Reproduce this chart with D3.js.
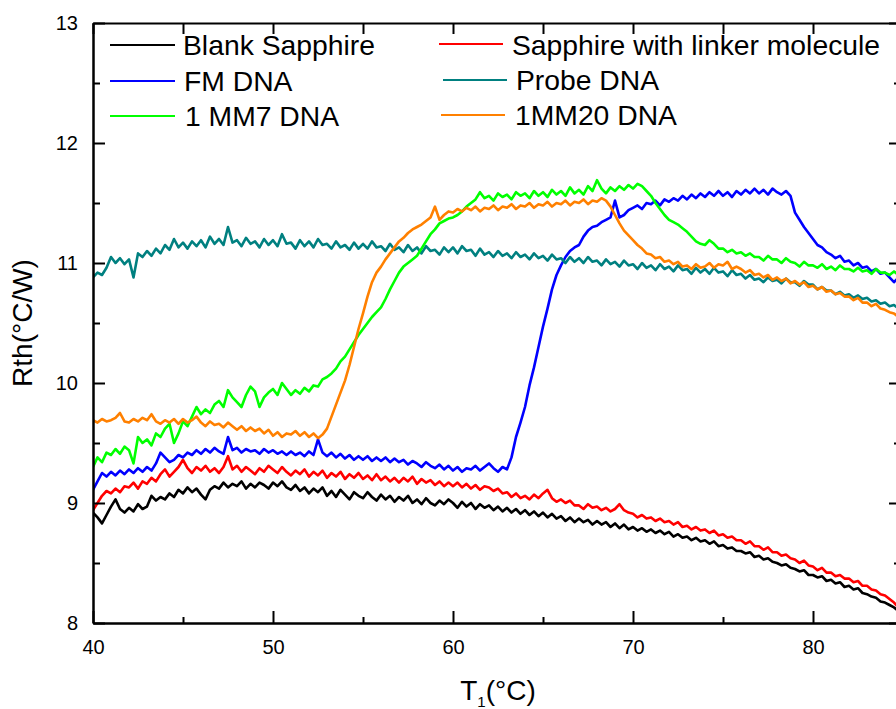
<!DOCTYPE html>
<html>
<head>
<meta charset="utf-8">
<script src="https://cdn.jsdelivr.net/npm/d3@7"></script>
<style>
  body { margin: 0; background: #fff; }
  svg { display: block; font-family: Arial, "Liberation Sans", sans-serif; }
</style>
</head>
<body>
<svg id="chart" width="896" height="709"></svg>
<script>
// Thermal resistance Rth (°C/W) versus temperature T1 (°C), sampled every 0.25 °C from 40 °C.
const tStart = 40;
const tStep = 0.25;

const blankSapphire = [
  8.92,8.88,8.83,8.90, 8.97,9.03,8.95,8.92, 8.96,8.93,8.99,8.95, 8.97,9.06,9.02,9.05,
  9.03,9.08,9.05,9.11, 9.08,9.13,9.09,9.12, 9.07,9.03,9.11,9.14, 9.12,9.17,9.13,9.16,
  9.14,9.18,9.12,9.16, 9.13,9.17,9.15,9.12, 9.17,9.14,9.18,9.13, 9.11,9.15,9.10,9.13,
  9.08,9.12,9.09,9.13, 9.06,9.10,9.05,9.11, 9.07,9.03,9.09,9.06, 9.04,9.09,9.05,9.02,
  9.07,9.03,9.06,9.01, 9.05,9.02,9.06,9.00, 9.03,8.99,9.04,9.00, 8.98,9.02,8.99,9.03,
  9.00,8.96,9.01,8.97, 9.00,8.95,8.99,8.96, 8.98,8.94,8.97,8.93, 8.96,8.92,8.95,8.91,
  8.94,8.90,8.93,8.89, 8.92,8.88,8.91,8.87, 8.89,8.85,8.88,8.84, 8.87,8.84,8.86,8.82,
  8.85,8.82,8.84,8.80, 8.83,8.79,8.82,8.78, 8.80,8.77,8.79,8.76, 8.78,8.75,8.77,8.74,
  8.76,8.72,8.74,8.71, 8.72,8.69,8.71,8.68, 8.69,8.66,8.68,8.64, 8.65,8.62,8.63,8.60,
  8.60,8.58,8.59,8.55, 8.56,8.53,8.54,8.51, 8.50,8.48,8.49,8.46, 8.45,8.43,8.44,8.40,
  8.40,8.38,8.39,8.35, 8.36,8.33,8.34,8.30, 8.31,8.28,8.29,8.25, 8.24,8.22,8.21,8.18,
  8.17,8.15,8.13,8.10
];

const linkerSapphire = [
  8.94,9.00,9.06,9.10, 9.08,9.12,9.09,9.14, 9.13,9.17,9.12,9.18, 9.16,9.21,9.18,9.24,
  9.28,9.22,9.26,9.30, 9.36,9.29,9.25,9.30, 9.27,9.31,9.26,9.29, 9.25,9.30,9.39,9.28,
  9.31,9.26,9.30,9.27, 9.24,9.29,9.26,9.31, 9.28,9.25,9.30,9.26, 9.23,9.27,9.24,9.28,
  9.22,9.26,9.23,9.27, 9.21,9.25,9.22,9.26, 9.20,9.24,9.21,9.25, 9.20,9.23,9.19,9.24,
  9.19,9.22,9.18,9.21, 9.17,9.21,9.18,9.22, 9.16,9.20,9.17,9.19, 9.15,9.18,9.14,9.17,
  9.14,9.17,9.13,9.16, 9.12,9.15,9.11,9.14, 9.13,9.10,9.12,9.08, 9.09,9.05,9.08,9.04,
  9.06,9.03,9.07,9.04, 9.08,9.11,9.04,9.01, 9.03,9.00,9.02,8.98, 8.98,8.95,8.99,8.96,
  8.97,8.94,8.96,8.93, 8.95,8.99,8.94,8.92, 8.91,8.88,8.90,8.87, 8.88,8.85,8.87,8.84,
  8.85,8.82,8.84,8.80, 8.81,8.78,8.80,8.77, 8.78,8.75,8.77,8.73, 8.74,8.71,8.72,8.69,
  8.69,8.66,8.68,8.64, 8.64,8.61,8.63,8.59, 8.59,8.56,8.57,8.54, 8.53,8.50,8.52,8.48,
  8.47,8.44,8.46,8.42, 8.42,8.39,8.40,8.37, 8.37,8.34,8.35,8.31, 8.31,8.28,8.27,8.24,
  8.23,8.20,8.17,8.13
];

const fmDna = [
  9.11,9.18,9.25,9.22, 9.26,9.23,9.27,9.24, 9.28,9.25,9.29,9.26, 9.30,9.27,9.33,9.42,
  9.38,9.34,9.36,9.40, 9.38,9.42,9.40,9.44, 9.41,9.45,9.42,9.46, 9.43,9.41,9.55,9.44,
  9.46,9.42,9.45,9.43, 9.44,9.41,9.45,9.42, 9.44,9.41,9.43,9.40, 9.43,9.40,9.42,9.39,
  9.43,9.40,9.53,9.42, 9.39,9.42,9.38,9.41, 9.37,9.40,9.36,9.39, 9.36,9.39,9.35,9.38,
  9.35,9.38,9.34,9.37, 9.34,9.36,9.32,9.35, 9.33,9.30,9.34,9.31, 9.29,9.32,9.28,9.31,
  9.27,9.30,9.26,9.29, 9.28,9.31,9.27,9.30, 9.33,9.29,9.26,9.30, 9.28,9.38,9.55,9.67,
  9.80,9.98,10.13,10.30, 10.47,10.62,10.78,10.90, 10.98,11.05,11.10,11.13, 11.15,11.22,11.27,11.30,
  11.31,11.34,11.36,11.38, 11.52,11.38,11.40,11.44, 11.46,11.48,11.45,11.50, 11.49,11.52,11.48,11.53,
  11.51,11.54,11.52,11.56, 11.53,11.57,11.54,11.58, 11.55,11.59,11.56,11.60, 11.56,11.59,11.55,11.60,
  11.57,11.61,11.58,11.62, 11.58,11.61,11.57,11.62, 11.59,11.57,11.60,11.56, 11.42,11.36,11.30,11.25,
  11.20,11.15,11.13,11.09, 11.07,11.04,11.06,11.01, 11.02,10.98,11.00,10.96, 10.97,10.93,10.95,10.91,
  10.92,10.88,10.84,10.88
];

const probeDna = [
  10.88,10.92,10.90,10.96, 11.05,11.00,11.04,10.99, 11.03,10.88,11.08,11.05, 11.10,11.06,11.12,11.08,
  11.15,11.11,11.20,11.13, 11.17,11.12,11.18,11.14, 11.19,11.13,11.22,11.16, 11.20,11.15,11.30,11.17,
  11.19,11.14,11.21,11.16, 11.18,11.13,11.20,11.15, 11.19,11.14,11.24,11.16, 11.17,11.12,11.19,11.14,
  11.18,11.13,11.20,11.15, 11.16,11.12,11.18,11.13, 11.15,11.11,11.17,11.12, 11.16,11.12,11.18,11.13,
  11.14,11.10,11.16,11.11, 11.13,11.09,11.15,11.10, 11.13,11.08,11.14,11.10, 11.11,11.07,11.13,11.09,
  11.13,11.08,11.14,11.10, 11.11,11.06,11.12,11.07, 11.09,11.05,11.10,11.06, 11.08,11.04,11.09,11.05,
  11.07,11.03,11.08,11.04, 11.06,11.02,11.07,11.03, 11.04,11.00,11.05,11.01, 11.04,11.00,11.05,11.01,
  11.02,10.98,11.03,10.99, 11.01,10.97,11.02,10.98, 10.99,10.95,11.00,10.96, 10.98,10.94,10.99,10.95,
  10.97,10.93,10.98,10.94, 10.95,10.91,10.96,10.92, 10.95,10.91,10.96,10.92, 10.93,10.89,10.94,10.90,
  10.91,10.87,10.90,10.86, 10.87,10.84,10.88,10.85, 10.86,10.83,10.87,10.84, 10.84,10.81,10.85,10.82,
  10.82,10.78,10.80,10.77, 10.77,10.74,10.76,10.73, 10.74,10.71,10.73,10.70, 10.71,10.68,10.69,10.66,
  10.67,10.64,10.65,10.62
];

const mm7Dna = [
  9.30,9.38,9.34,9.42, 9.40,9.45,9.41,9.47, 9.44,9.33,9.55,9.50, 9.53,9.48,9.58,9.55,
  9.62,9.66,9.50,9.58, 9.68,9.64,9.72,9.80, 9.74,9.78,9.75,9.82, 9.85,9.80,9.94,9.88,
  9.84,9.80,9.90,9.97, 9.93,9.80,9.88,9.92, 9.95,9.90,10.00,9.95, 9.90,9.94,9.91,9.96,
  9.93,9.98,9.97,10.03, 10.05,10.08,10.12,10.18, 10.22,10.28,10.34,10.40, 10.45,10.50,10.55,10.59,
  10.63,10.70,10.78,10.85, 10.92,10.97,11.00,11.03, 11.06,11.12,11.18,11.24, 11.28,11.33,11.35,11.37,
  11.38,11.40,11.43,11.47, 11.50,11.53,11.59,11.54, 11.56,11.52,11.58,11.55, 11.57,11.53,11.59,11.56,
  11.58,11.54,11.60,11.56, 11.59,11.55,11.61,11.57, 11.60,11.56,11.63,11.58, 11.61,11.57,11.64,11.60,
  11.69,11.62,11.58,11.63, 11.60,11.64,11.61,11.65, 11.62,11.66,11.64,11.60, 11.56,11.50,11.45,11.40,
  11.36,11.34,11.32,11.29, 11.26,11.22,11.18,11.16, 11.15,11.19,11.16,11.12, 11.12,11.09,11.11,11.08,
  11.09,11.06,11.08,11.05, 11.05,11.02,11.06,11.03, 11.03,11.00,11.04,11.01, 11.00,10.97,11.01,10.98,
  10.98,10.96,10.99,10.95, 10.97,10.94,10.98,10.95, 10.95,10.93,10.96,10.93, 10.94,10.91,10.95,10.92,
  10.92,10.90,10.93,10.90
];

const mm20Dna = [
  9.69,9.67,9.70,9.68, 9.69,9.71,9.75,9.68, 9.67,9.70,9.68,9.71, 9.69,9.74,9.68,9.66,
  9.69,9.67,9.70,9.66, 9.70,9.67,9.69,9.72, 9.67,9.64,9.68,9.65, 9.66,9.63,9.67,9.64,
  9.61,9.64,9.60,9.63, 9.60,9.62,9.58,9.61, 9.56,9.59,9.55,9.58, 9.57,9.60,9.56,9.59,
  9.55,9.58,9.54,9.57, 9.62,9.72,9.82,9.92, 10.02,10.15,10.30,10.45, 10.58,10.72,10.84,10.92,
  10.97,11.03,11.08,11.13, 11.18,11.21,11.25,11.28, 11.30,11.32,11.35,11.38, 11.47,11.36,11.40,11.43,
  11.42,11.45,11.43,11.46, 11.44,11.47,11.43,11.46, 11.45,11.48,11.44,11.47, 11.46,11.49,11.45,11.48,
  11.47,11.50,11.46,11.49, 11.48,11.51,11.47,11.50, 11.49,11.52,11.48,11.51, 11.50,11.53,11.49,11.52,
  11.51,11.54,11.52,11.47, 11.40,11.33,11.27,11.23, 11.19,11.15,11.12,11.08, 11.07,11.04,11.05,11.01,
  11.02,10.99,11.01,10.97, 10.98,10.95,10.99,10.96, 10.97,11.00,10.96,10.99, 10.98,11.01,10.95,10.97,
  10.95,10.92,10.94,10.90, 10.91,10.88,10.90,10.86, 10.88,10.85,10.87,10.83, 10.85,10.82,10.84,10.80,
  10.81,10.78,10.80,10.76, 10.77,10.74,10.75,10.72, 10.72,10.69,10.71,10.67, 10.67,10.64,10.66,10.62,
  10.61,10.59,10.58,10.55
];

const seriesNames = ["Blank Sapphire", "Sapphire with linker molecule", "FM DNA", "Probe DNA", "1 MM7 DNA", "1MM20 DNA"];
const seriesColors = ["#000000", "#ff0000", "#0000ff", "#008080", "#00ff00", "#ff8000"];
const seriesValues = [blankSapphire, linkerSapphire, fmDna, probeDna, mm7Dna, mm20Dna];

const xMajorTicks = [40, 50, 60, 70, 80];
const xMinorTicks = [45, 55, 65, 75, 85];
const yMajorTicks = [8, 9, 10, 11, 12, 13];
const yMinorTicks = [8.5, 9.5, 10.5, 11.5, 12.5];

const svg = d3.select("#chart");
const plotLeft = 93, plotRight = 903, plotTop = 23, plotBottom = 623;

const x = d3.scaleLinear().domain([40, 85]).range([plotLeft, plotRight]);
const y = d3.scaleLinear().domain([8, 13]).range([plotBottom, plotTop]);

// clip the traces to the plotting frame
svg.append("defs").append("clipPath").attr("id", "plotClip")
  .append("rect").attr("x", plotLeft).attr("y", plotTop)
  .attr("width", plotRight - plotLeft).attr("height", plotBottom - plotTop);

const line = d3.line()
  .x((d, i) => x(tStart + i * tStep))
  .y(d => y(d));

const traces = svg.append("g").attr("clip-path", "url(#plotClip)");
seriesValues.forEach((vals, k) => {
  traces.append("path")
    .datum(vals)
    .attr("d", line)
    .attr("fill", "none")
    .attr("stroke", seriesColors[k])
    .attr("stroke-width", 2.6)
    .attr("stroke-linejoin", "round");
});

// axes: inward ticks on all four sides
function styleAxis(g, fontSize) {
  g.attr("font-family", null).attr("font-size", null);
  g.selectAll(".domain").attr("stroke", "#000").attr("stroke-width", 2);
  g.selectAll(".tick line").attr("stroke", "#000").attr("stroke-width", 2);
  g.selectAll(".tick text").attr("fill", "#000").style("font-size", fontSize + "px")
    .style("font-family", "Arial, 'Liberation Sans', sans-serif");
}

const xBottom = svg.append("g").attr("transform", `translate(0,${plotBottom})`)
  .call(d3.axisBottom(x).tickValues(xMajorTicks).tickSizeInner(-12).tickSizeOuter(0).tickPadding(17).tickFormat(d3.format("d")));
styleAxis(xBottom, 20);
const xBottomMinor = svg.append("g").attr("transform", `translate(0,${plotBottom})`)
  .call(d3.axisBottom(x).tickValues(xMinorTicks).tickSizeInner(-6).tickSizeOuter(0).tickFormat(""));
styleAxis(xBottomMinor, 20);

const xTop = svg.append("g").attr("transform", `translate(0,${plotTop})`)
  .call(d3.axisTop(x).tickValues(xMajorTicks.concat(xMinorTicks)).tickSizeInner(-11).tickSizeOuter(0).tickFormat(""));
styleAxis(xTop, 20);

const yLeft = svg.append("g").attr("transform", `translate(${plotLeft},0)`)
  .call(d3.axisLeft(y).tickValues(yMajorTicks).tickSizeInner(-12).tickSizeOuter(0).tickPadding(15).tickFormat(d3.format("d")));
styleAxis(yLeft, 20);
const yLeftMinor = svg.append("g").attr("transform", `translate(${plotLeft},0)`)
  .call(d3.axisLeft(y).tickValues(yMinorTicks).tickSizeInner(-7).tickSizeOuter(0).tickFormat(""));
styleAxis(yLeftMinor, 20);

const yRight = svg.append("g").attr("transform", `translate(${plotRight - 2},0)`)
  .call(d3.axisRight(y).tickValues(yMajorTicks).tickSizeInner(-12).tickSizeOuter(0).tickFormat(""));
styleAxis(yRight, 20);
const yRightMinor = svg.append("g").attr("transform", `translate(${plotRight - 2},0)`)
  .call(d3.axisRight(y).tickValues(yMinorTicks).tickSizeInner(-7).tickSizeOuter(0).tickFormat(""));
styleAxis(yRightMinor, 20);

// axis titles
svg.append("text")
  .attr("transform", `translate(32,${(plotTop + plotBottom) / 2}) rotate(-90)`)
  .attr("text-anchor", "middle")
  .style("font-size", "28px")
  .text("Rth(°C/W)");

const xTitle = svg.append("text")
  .attr("x", (plotLeft + plotRight) / 2)
  .attr("y", 700)
  .attr("text-anchor", "middle")
  .style("font-size", "28px");
xTitle.append("tspan").text("T");
xTitle.append("tspan").attr("dy", 7).style("font-size", "15px").text("1");
xTitle.append("tspan").attr("dy", -7).text("(°C)");

// legend, two columns of three rows
const legendItems = [
  { k: 0, x1: 110, x2: 175, tx: 183, ly: 45, by: 55 },
  { k: 2, x1: 110, x2: 175, tx: 184, ly: 81, by: 91 },
  { k: 4, x1: 110, x2: 175, tx: 185, ly: 116, by: 126 },
  { k: 1, x1: 439, x2: 503, tx: 512, ly: 44, by: 55 },
  { k: 3, x1: 443, x2: 507, tx: 516, ly: 80, by: 90 },
  { k: 5, x1: 441, x2: 505, tx: 515, ly: 115, by: 125 }
];
const legend = svg.append("g");
legendItems.forEach(it => {
  legend.append("line")
    .attr("x1", it.x1).attr("x2", it.x2).attr("y1", it.ly).attr("y2", it.ly)
    .attr("stroke", seriesColors[it.k]).attr("stroke-width", 2);
  legend.append("text")
    .attr("x", it.tx).attr("y", it.by)
    .style("font-size", "28.3px")
    .text(seriesNames[it.k]);
});
</script>
</body>
</html>
